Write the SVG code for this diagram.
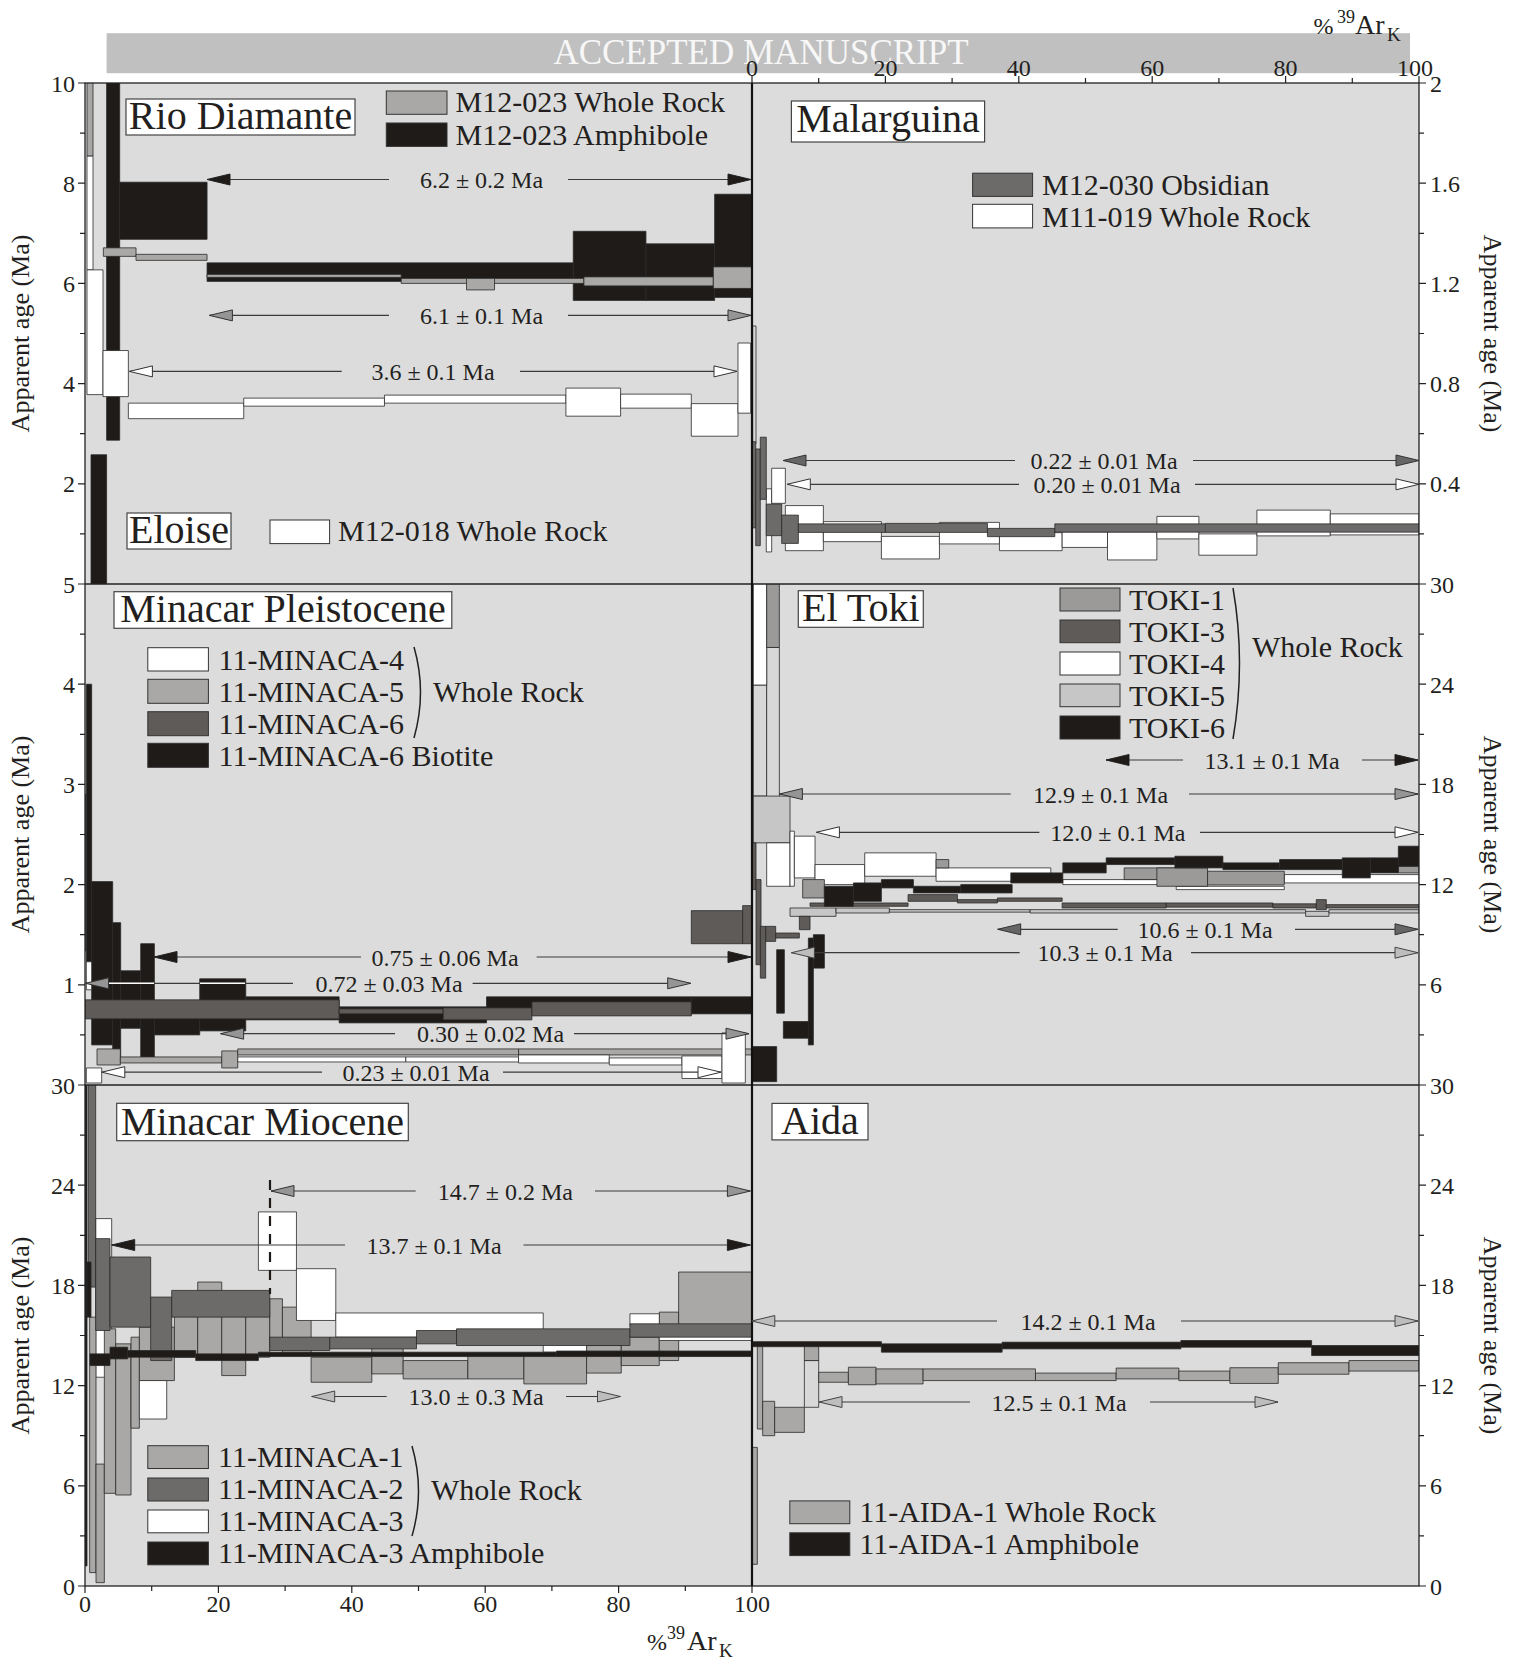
<svg xmlns="http://www.w3.org/2000/svg" xmlns:xlink="http://www.w3.org/1999/xlink" width="1519" height="1660" viewBox="0 0 1519 1660">
<style>
text{font-family:"Liberation Serif","Times New Roman",serif;fill:#231f20}
.bg{fill:#dcdcdc}
.dat rect{stroke:#2a2a2a;stroke-width:0.8;vector-effect:non-scaling-stroke}
.k{fill:#1f1b19}.g{fill:#a9a8a6}.d{fill:#6d6b6a}.d2{fill:#5f5b59}.w{fill:#ffffff}.t1{fill:#9b9a99}.t5{fill:#c6c6c6}.e{fill:#d8d8d8}
.sw{stroke:#333;stroke-width:1}
.tb{fill:#fff;stroke:#444;stroke-width:1.2}
.ttl{font-size:40px;text-anchor:middle}
.leg{font-size:30px}
.tk{font-size:24px}
.tkl{text-anchor:end}
.tkm{text-anchor:middle}
.ax{font-size:26px;text-anchor:middle}
.al{stroke:#3a3a3a;stroke-width:1.2}
.lab{font-size:24px;text-anchor:middle}
.hk{fill:#1f1b19;stroke:#222;stroke-width:1}
.hg{fill:#959595;stroke:#333;stroke-width:1}
.hw{fill:#fff;stroke:#333;stroke-width:1}
.hd{fill:#666;stroke:#333;stroke-width:1}
.hl{fill:#bdbdbd;stroke:#444;stroke-width:1}
.fr{fill:none;stroke:#222;stroke-width:1.3}
.tick{fill:none;stroke:#222;stroke-width:1.2}
.br{fill:none;stroke:#222;stroke-width:1.5}
</style>
<defs>
<path id="hL" d="M0,0 L23,-5.5 L23,5.5 Z"/>
<path id="hR" d="M0,0 L-23,-5.5 L-23,5.5 Z"/>
<clipPath id="c1"><rect x="85" y="83" width="667" height="501"/></clipPath>
<clipPath id="c2"><rect x="752" y="83" width="667" height="501"/></clipPath>
<clipPath id="c3"><rect x="85" y="584" width="667" height="501"/></clipPath>
<clipPath id="c4"><rect x="752" y="584" width="667" height="501"/></clipPath>
<clipPath id="c5"><rect x="85" y="1085" width="667" height="501"/></clipPath>
<clipPath id="c6"><rect x="752" y="1085" width="667" height="501"/></clipPath>
</defs>

<rect x="0" y="0" width="1519" height="1660" fill="#ffffff"/>
<g id="banner">
<rect x="106.6" y="33.2" width="1303.4" height="40" fill="#c0c0c0"/>
<text x="761" y="64" font-size="35" text-anchor="middle" style="fill:#f7f7f7">ACCEPTED MANUSCRIPT</text>
</g>

<rect class="bg" x="85" y="83" width="1334" height="1503"/>

<g id="panel-rio-diamante-eloise" clip-path="url(#c1)">
<g class="dat" transform="translate(85,584) scale(6.67,-50.1)">
<rect class="k" x="3.24" y="2.87" width="1.96" height="7.63"/>
<rect class="k" x="0.9" y="0" width="2.34" height="2.58"/>
<rect class="k" x="5.2" y="6.88" width="13.1" height="1.14"/>
<rect class="k" x="18.3" y="6.04" width="54.9" height="0.37"/>
<rect class="k" x="73.2" y="5.66" width="10.9" height="1.38"/>
<rect class="k" x="84.1" y="5.66" width="10.3" height="1.13"/>
<rect class="k" x="94.4" y="5.72" width="5.6" height="2.06"/>
<rect class="g" x="0.3" y="8.54" width="0.9" height="1.96"/>
<rect class="g" x="2.75" y="6.54" width="4.9" height="0.17"/>
<rect class="g" x="7.65" y="6.46" width="10.65" height="0.12"/>
<rect class="g" x="18.3" y="6.12" width="29.1" height="0.06"/>
<rect class="g" x="47.4" y="6.0" width="27.4" height="0.1"/>
<rect class="g" x="57.2" y="5.87" width="4.2" height="0.23"/>
<rect class="g" x="74.8" y="5.95" width="19.4" height="0.18"/>
<rect class="g" x="94.2" y="5.9" width="5.8" height="0.43"/>
<rect class="w" x="0.3" y="6.27" width="0.9" height="2.27"/>
<rect class="w" x="0.3" y="3.78" width="2.4" height="2.49"/>
<rect class="w" x="2.7" y="3.74" width="3.8" height="0.92"/>
<rect class="w" x="6.5" y="3.3" width="17.3" height="0.31"/>
<rect class="w" x="23.8" y="3.55" width="21.1" height="0.16"/>
<rect class="w" x="44.9" y="3.61" width="27.2" height="0.16"/>
<rect class="w" x="72.1" y="3.35" width="8.2" height="0.56"/>
<rect class="w" x="80.3" y="3.51" width="10.6" height="0.28"/>
<rect class="w" x="90.9" y="2.95" width="7.0" height="0.65"/>
<rect class="w" x="97.9" y="3.41" width="1.9" height="1.4"/>
</g>
</g>

<g id="panel-malarguina" clip-path="url(#c2)">
<g class="dat" transform="translate(752,584) scale(6.67,-250.5)">
<rect class="e" x="0.1" y="0.56" width="0.5" height="0.47"/>
<rect class="w" x="2.14" y="0.128" width="0.81" height="0.252"/>
<rect class="w" x="2.95" y="0.322" width="2.05" height="0.14"/>
<rect class="w" x="5.0" y="0.133" width="5.7" height="0.18"/>
<rect class="w" x="10.7" y="0.169" width="8.7" height="0.08"/>
<rect class="w" x="19.4" y="0.1" width="8.7" height="0.09"/>
<rect class="w" x="28.1" y="0.16" width="9.0" height="0.086"/>
<rect class="w" x="37.1" y="0.133" width="9.4" height="0.072"/>
<rect class="w" x="46.5" y="0.146" width="6.8" height="0.062"/>
<rect class="w" x="53.3" y="0.096" width="7.4" height="0.112"/>
<rect class="w" x="60.7" y="0.18" width="6.3" height="0.09"/>
<rect class="w" x="67" y="0.115" width="8.7" height="0.085"/>
<rect class="w" x="75.7" y="0.192" width="11" height="0.103"/>
<rect class="w" x="86.7" y="0.196" width="13.3" height="0.084"/>
<rect class="d" x="0" y="0.224" width="0.56" height="0.344"/>
<rect class="d" x="0.56" y="0.153" width="0.68" height="0.386"/>
<rect class="d" x="1.24" y="0.338" width="0.9" height="0.248"/>
<rect class="d" x="2.14" y="0.193" width="2.31" height="0.126"/>
<rect class="d" x="4.45" y="0.162" width="2.5" height="0.113"/>
<rect class="d" x="6.95" y="0.206" width="13.05" height="0.034"/>
<rect class="d" x="20" y="0.206" width="15.3" height="0.036"/>
<rect class="d" x="35.3" y="0.189" width="10.1" height="0.033"/>
<rect class="d" x="45.4" y="0.207" width="54.6" height="0.033"/>
</g>
</g>

<g id="panel-minacar-pleistocene" clip-path="url(#c3)">
<g class="dat" transform="translate(85,1085) scale(6.67,-100.2)">
<rect class="k" x="0.2" y="1.23" width="0.8" height="2.77"/>
<rect class="k" x="1.0" y="0.4" width="3.15" height="1.63"/>
<rect class="k" x="4.15" y="0.25" width="1.2" height="1.37"/>
<rect class="k" x="5.35" y="0.566" width="3.0" height="0.574"/>
<rect class="k" x="8.35" y="0.25" width="2.05" height="1.16"/>
<rect class="k" x="10.4" y="0.5" width="6.8" height="0.3"/>
<rect class="k" x="17.2" y="0.54" width="6.9" height="0.52"/>
<rect class="k" x="24.1" y="0.65" width="14" height="0.23"/>
<rect class="k" x="38.1" y="0.62" width="22.1" height="0.16"/>
<rect class="k" x="60.2" y="0.70" width="30.7" height="0.18"/>
<rect class="k" x="90.9" y="0.71" width="9.1" height="0.17"/>
<rect class="d2" x="0" y="0.66" width="38.1" height="0.19"/>
<rect class="d2" x="38.1" y="0.71" width="15.6" height="0.05"/>
<rect class="d2" x="53.7" y="0.65" width="13.3" height="0.12"/>
<rect class="d2" x="67" y="0.69" width="23.9" height="0.14"/>
<rect class="d2" x="90.9" y="1.41" width="7.7" height="0.33"/>
<rect class="d2" x="98.6" y="1.41" width="1.4" height="0.38"/>
<rect class="d2" x="0" y="1.34" width="0.2" height="1.56"/>
<rect class="g" x="1.8" y="0.2" width="3.5" height="0.16"/>
<rect class="g" x="5.3" y="0.22" width="15.2" height="0.06"/>
<rect class="g" x="20.5" y="0.17" width="2.4" height="0.17"/>
<rect class="g" x="22.9" y="0.3" width="42.1" height="0.06"/>
<rect class="g" x="65" y="0.3" width="35" height="0.06"/>
<rect class="w" x="0.2" y="0.02" width="2.3" height="0.15"/>
<rect class="w" x="0.2" y="0.95" width="0.8" height="0.28"/>
<rect class="w" x="22.9" y="0.23" width="25.2" height="0.05"/>
<rect class="w" x="48.1" y="0.23" width="16.9" height="0.05"/>
<rect class="w" x="65" y="0.22" width="13.6" height="0.08"/>
<rect class="w" x="78.6" y="0.2" width="10.9" height="0.07"/>
<rect class="w" x="89.5" y="0.065" width="6" height="0.225"/>
<rect class="w" x="95.5" y="0.02" width="3.5" height="0.5"/>
</g>
</g>

<g id="panel-el-toki" clip-path="url(#c4)">
<g class="dat" transform="translate(752,1085) scale(6.67,-16.7)">
<rect class="e" x="0.2" y="17.3" width="2.0" height="6.65"/>
<rect class="e" x="2.2" y="14.5" width="1.9" height="11.7"/>
<rect class="t5" x="0.2" y="14.5" width="5.5" height="2.8"/>
<rect class="t5" x="5.7" y="10.1" width="6.9" height="0.5"/>
<rect class="t5" x="12.6" y="10.3" width="8" height="0.3"/>
<rect class="t5" x="20.6" y="10.35" width="21.1" height="0.15"/>
<rect class="t5" x="41.7" y="10.3" width="41.3" height="0.2"/>
<rect class="t5" x="83" y="10.1" width="3.5" height="0.3"/>
<rect class="t5" x="86.5" y="10.3" width="13.5" height="0.2"/>
<rect class="d2" x="0" y="11.7" width="0.6" height="2.8"/>
<rect class="d2" x="0.6" y="7.2" width="0.75" height="5.1"/>
<rect class="d2" x="1.25" y="6.4" width="0.8" height="3.1"/>
<rect class="d2" x="2.05" y="8.6" width="1.5" height="0.9"/>
<rect class="d2" x="3.55" y="8.8" width="3.55" height="0.3"/>
<rect class="d2" x="7.1" y="9.3" width="1.6" height="0.8"/>
<rect class="d2" x="8.7" y="10.7" width="14.7" height="0.2"/>
<rect class="d2" x="23.4" y="11.0" width="7.4" height="0.4"/>
<rect class="d2" x="30.8" y="10.9" width="6" height="0.2"/>
<rect class="d2" x="36.8" y="11.0" width="9.7" height="0.2"/>
<rect class="d2" x="46.5" y="10.6" width="15.6" height="0.3"/>
<rect class="d2" x="62.1" y="10.65" width="16" height="0.25"/>
<rect class="d2" x="78.1" y="10.6" width="6.5" height="0.25"/>
<rect class="d2" x="84.6" y="10.5" width="1.5" height="0.6"/>
<rect class="d2" x="86.1" y="10.6" width="13.9" height="0.2"/>
<rect class="w" x="0.2" y="23.95" width="2.0" height="6.55"/>
<rect class="w" x="2.2" y="11.9" width="3.5" height="2.6"/>
<rect class="w" x="5.7" y="11.9" width="0.65" height="3.3"/>
<rect class="w" x="6.35" y="12.4" width="3.1" height="2.5"/>
<rect class="w" x="9.45" y="12.0" width="7.45" height="1.2"/>
<rect class="w" x="16.9" y="12.5" width="10.7" height="1.4"/>
<rect class="w" x="27.6" y="12.2" width="17.2" height="0.8"/>
<rect class="w" x="46.6" y="12.0" width="18.8" height="0.3"/>
<rect class="w" x="63.6" y="11.7" width="16.2" height="0.2"/>
<rect class="w" x="79.8" y="12.1" width="20.2" height="0.5"/>
<rect class="t1" x="2.2" y="26.2" width="1.9" height="4.3"/>
<rect class="t1" x="7.6" y="11.2" width="3.25" height="1.1"/>
<rect class="t1" x="27.6" y="13.0" width="1.9" height="0.5"/>
<rect class="t1" x="55.8" y="12.3" width="7.8" height="0.7"/>
<rect class="t1" x="60.7" y="11.9" width="7.6" height="1.1"/>
<rect class="t1" x="68.3" y="11.98" width="11.5" height="0.82"/>
<rect class="t1" x="96.9" y="12.7" width="3.1" height="0.4"/>
<rect class="k" x="0" y="0.2" width="3.7" height="2.1"/>
<rect class="k" x="3.7" y="4.3" width="1.15" height="3.8"/>
<rect class="k" x="4.7" y="2.8" width="3.9" height="1.0"/>
<rect class="k" x="8.45" y="2.4" width="0.75" height="6.4"/>
<rect class="k" x="9.2" y="7.0" width="1.65" height="2.0"/>
<rect class="k" x="10.85" y="10.7" width="4.35" height="1.2"/>
<rect class="k" x="15.2" y="11.0" width="4.2" height="1.1"/>
<rect class="k" x="19.4" y="11.8" width="4.8" height="0.5"/>
<rect class="k" x="24.2" y="11.5" width="7.1" height="0.4"/>
<rect class="k" x="31.3" y="11.5" width="7.7" height="0.5"/>
<rect class="k" x="38.8" y="12.1" width="7.8" height="0.6"/>
<rect class="k" x="46.6" y="12.7" width="6.5" height="0.6"/>
<rect class="k" x="53.1" y="13.2" width="10.3" height="0.4"/>
<rect class="k" x="63.4" y="13.0" width="7.2" height="0.7"/>
<rect class="k" x="70.6" y="12.9" width="8.5" height="0.4"/>
<rect class="k" x="79.1" y="12.9" width="9.4" height="0.6"/>
<rect class="k" x="88.5" y="12.4" width="4.2" height="1.2"/>
<rect class="k" x="92.7" y="12.7" width="4.2" height="0.9"/>
<rect class="k" x="96.9" y="13.1" width="3.1" height="1.2"/>
</g>
</g>

<g id="panel-minacar-miocene" clip-path="url(#c5)">
<g class="dat" transform="translate(85,1586) scale(6.67,-16.7)">
<rect class="w" x="1.6" y="12.5" width="2.4" height="9.5"/>
<rect class="g" x="0.7" y="0.8" width="0.95" height="15.3"/>
<rect class="g" x="1.65" y="0.2" width="1.25" height="7.1"/>
<rect class="g" x="2.9" y="5.55" width="1.7" height="9.85"/>
<rect class="g" x="4.6" y="5.45" width="2.3" height="9.05"/>
<rect class="g" x="6.9" y="9.45" width="1.25" height="5.45"/>
<rect class="g" x="8.15" y="12.3" width="5.25" height="3.2"/>
<rect class="g" x="13.4" y="13.7" width="3.5" height="2.5"/>
<rect class="g" x="16.9" y="13.7" width="3.6" height="4.5"/>
<rect class="g" x="20.5" y="12.6" width="3.6" height="3.7"/>
<rect class="g" x="24.1" y="13.7" width="3.6" height="2.6"/>
<rect class="g" x="27.7" y="14.3" width="1.9" height="2.9"/>
<rect class="g" x="29.6" y="13.9" width="4.3" height="2.8"/>
<rect class="g" x="33.9" y="12.2" width="9.1" height="1.5"/>
<rect class="g" x="43" y="12.7" width="4.7" height="1.6"/>
<rect class="g" x="47.7" y="12.4" width="9.7" height="1.1"/>
<rect class="g" x="57.4" y="12.4" width="8.4" height="1.4"/>
<rect class="g" x="65.8" y="12.1" width="9.4" height="1.7"/>
<rect class="g" x="75.2" y="12.75" width="5.2" height="1.65"/>
<rect class="g" x="80.4" y="13.2" width="5.7" height="1.7"/>
<rect class="g" x="86.1" y="13.5" width="2.9" height="2.9"/>
<rect class="g" x="89" y="14.9" width="11" height="3.9"/>
<rect class="w" x="8.15" y="10.0" width="4.1" height="2.3"/>
<rect class="w" x="26" y="18.9" width="5.7" height="3.5"/>
<rect class="w" x="31.7" y="15.9" width="5.9" height="3.1"/>
<rect class="w" x="37.6" y="14.9" width="31.1" height="1.45"/>
<rect class="w" x="68.7" y="14.0" width="6.5" height="0.5"/>
<rect class="w" x="81.7" y="15.6" width="4.4" height="0.7"/>
<rect class="w" x="86.1" y="14.7" width="13.9" height="0.4"/>
<rect class="d" x="0.5" y="17.9" width="1.1" height="12.6"/>
<rect class="d" x="1.6" y="15.3" width="2.15" height="5.5"/>
<rect class="d" x="3.75" y="15.5" width="6.1" height="4.2"/>
<rect class="d" x="9.85" y="13.5" width="3.15" height="3.8"/>
<rect class="d" x="13.0" y="16.1" width="14.7" height="1.6"/>
<rect class="d" x="27.7" y="14.1" width="9" height="0.8"/>
<rect class="d" x="36.7" y="14.2" width="13" height="0.7"/>
<rect class="d" x="49.7" y="14.5" width="6" height="0.8"/>
<rect class="d" x="55.7" y="14.4" width="26" height="1.0"/>
<rect class="d" x="81.7" y="14.9" width="18.3" height="0.8"/>
<rect class="k" x="0" y="1.2" width="0.3" height="29.3"/>
<rect class="k" x="0.3" y="16.1" width="0.6" height="3.3"/>
<rect class="k" x="0.75" y="13.2" width="3.0" height="0.7"/>
<rect class="k" x="3.75" y="13.6" width="2.65" height="0.7"/>
<rect class="k" x="6.4" y="13.7" width="10.2" height="0.4"/>
<rect class="k" x="16.6" y="13.5" width="9.4" height="0.4"/>
<rect class="k" x="26" y="13.74" width="44.7" height="0.26"/>
<rect class="k" x="70.7" y="13.74" width="29.3" height="0.33"/>
</g>
<line x1="270" y1="1180" x2="270" y2="1294" stroke="#1f1b19" stroke-width="2.2" stroke-dasharray="10,8"/>
</g>

<g id="panel-aida" clip-path="url(#c6)">
<g class="dat" transform="translate(752,1586) scale(6.67,-16.7)">
<rect class="e" x="7.85" y="10.7" width="2.15" height="2.8"/>
<rect class="g" x="0" y="1.3" width="0.8" height="7.0"/>
<rect class="g" x="0.8" y="9.4" width="0.8" height="5.0"/>
<rect class="g" x="1.6" y="9.0" width="1.8" height="2.06"/>
<rect class="g" x="3.4" y="9.2" width="4.45" height="1.5"/>
<rect class="g" x="7.85" y="13.5" width="2.15" height="0.9"/>
<rect class="g" x="10" y="12.2" width="4.45" height="0.6"/>
<rect class="g" x="14.45" y="12.05" width="4.15" height="1.05"/>
<rect class="g" x="18.6" y="12.1" width="7.05" height="0.9"/>
<rect class="g" x="25.65" y="12.3" width="16.85" height="0.7"/>
<rect class="g" x="42.5" y="12.3" width="12.1" height="0.45"/>
<rect class="g" x="54.6" y="12.4" width="9.4" height="0.65"/>
<rect class="g" x="64" y="12.3" width="7.65" height="0.57"/>
<rect class="g" x="71.65" y="12.13" width="7.25" height="0.94"/>
<rect class="g" x="78.9" y="12.68" width="10.6" height="0.69"/>
<rect class="g" x="89.5" y="12.87" width="10.5" height="0.63"/>
<rect class="k" x="0" y="14.33" width="19.4" height="0.3"/>
<rect class="k" x="19.4" y="14.0" width="18.1" height="0.5"/>
<rect class="k" x="37.5" y="14.2" width="26.8" height="0.4"/>
<rect class="k" x="64.3" y="14.3" width="19.6" height="0.4"/>
<rect class="k" x="83.9" y="13.8" width="16.1" height="0.6"/>
</g>
</g>

<g id="frame">
<rect class="fr" x="85" y="83" width="1334" height="1503"/>
<line x1="85" y1="584" x2="1419" y2="584" stroke="#222" stroke-width="1.3"/>
<line x1="85" y1="1085" x2="1419" y2="1085" stroke="#222" stroke-width="1.3"/>
<line x1="752" y1="83" x2="752" y2="1586" stroke="#111" stroke-width="2.2"/>
<path class="tick" d="M78,83H85M78,183.2H85M78,283.4H85M78,383.6H85M78,483.8H85M78,584H85M78,684.2H85M78,784.4H85M78,884.6H85M78,984.8H85M78,1085H85M78,1185.2H85M78,1285.4H85M78,1385.6H85M78,1485.8H85M78,1586H85M80,133.1H85M80,233.3H85M80,333.5H85M80,433.7H85M80,533.9H85M80,634.1H85M80,734.3H85M80,834.5H85M80,934.7H85M80,1034.9H85M80,1135.1H85M80,1235.3H85M80,1335.5H85M80,1435.7H85M80,1535.9H85"/>
<path class="tick" d="M1419,83H1426M1419,183.2H1426M1419,283.4H1426M1419,383.6H1426M1419,483.8H1426M1419,584H1426M1419,684.2H1426M1419,784.4H1426M1419,884.6H1426M1419,984.8H1426M1419,1085H1426M1419,1185.2H1426M1419,1285.4H1426M1419,1385.6H1426M1419,1485.8H1426M1419,1586H1426M1419,133.1H1424M1419,233.3H1424M1419,333.5H1424M1419,433.7H1424M1419,533.9H1424M1419,634.1H1424M1419,734.3H1424M1419,834.5H1424M1419,934.7H1424M1419,1034.9H1424M1419,1135.1H1424M1419,1235.3H1424M1419,1335.5H1424M1419,1435.7H1424M1419,1535.9H1424"/>
<path class="tick" d="M85,1586V1593M218.4,1586V1593M351.8,1586V1593M485.2,1586V1593M618.6,1586V1593M752,1586V1593M151.7,1586V1591M285.1,1586V1591M418.5,1586V1591M551.9,1586V1591M685.3,1586V1591"/>
<path class="tick" d="M752,83V76M885.4,83V76M1018.8,83V76M1152.2,83V76M1285.6,83V76M1419,83V76M818.7,83V78M952.1,83V78M1085.5,83V78M1218.9,83V78M1352.3,83V78"/>
</g>

<g id="axis-labels">
<g class="tk tkl">
<text x="75" y="91.5">10</text><text x="75" y="191.7">8</text><text x="75" y="291.9">6</text><text x="75" y="392.1">4</text><text x="75" y="492.3">2</text>
<text x="75" y="592.5">5</text><text x="75" y="692.7">4</text><text x="75" y="792.9">3</text><text x="75" y="893.1">2</text><text x="75" y="993.3">1</text>
<text x="75" y="1093.5">30</text><text x="75" y="1193.7">24</text><text x="75" y="1293.9">18</text><text x="75" y="1394.1">12</text><text x="75" y="1494.3">6</text><text x="75" y="1594.5">0</text>
</g>
<g class="tk">
<text x="1430" y="91.5">2</text><text x="1430" y="191.7">1.6</text><text x="1430" y="291.9">1.2</text><text x="1430" y="392.1">0.8</text><text x="1430" y="492.3">0.4</text>
<text x="1430" y="592.5">30</text><text x="1430" y="692.7">24</text><text x="1430" y="792.9">18</text><text x="1430" y="893.1">12</text><text x="1430" y="993.3">6</text>
<text x="1430" y="1093.5">30</text><text x="1430" y="1193.7">24</text><text x="1430" y="1293.9">18</text><text x="1430" y="1394.1">12</text><text x="1430" y="1494.3">6</text><text x="1430" y="1594.5">0</text>
</g>
<g class="tk tkm">
<text x="85" y="1612">0</text><text x="218.4" y="1612">20</text><text x="351.8" y="1612">40</text><text x="485.2" y="1612">60</text><text x="618.6" y="1612">80</text><text x="752" y="1612">100</text>
<text x="752" y="75.5">0</text><text x="885.4" y="75.5">20</text><text x="1018.8" y="75.5">40</text><text x="1152.2" y="75.5">60</text><text x="1285.6" y="75.5">80</text><text x="1415" y="75.5">100</text>
</g>
<text font-size="24"><tspan x="1313.6" y="34">%</tspan><tspan x="1337" y="23" font-size="18">39</tspan><tspan x="1355" y="34" font-size="28">Ar</tspan><tspan x="1387" y="41" font-size="19">K</tspan></text>
<text font-size="24"><tspan x="647" y="1650">%</tspan><tspan x="667" y="1639" font-size="18">39</tspan><tspan x="687" y="1650" font-size="28">Ar</tspan><tspan x="719" y="1657" font-size="19">K</tspan></text>
<text class="ax" transform="translate(29,333.5) rotate(-90)">Apparent age (Ma)</text>
<text class="ax" transform="translate(29,834.5) rotate(-90)">Apparent age (Ma)</text>
<text class="ax" transform="translate(29,1335.5) rotate(-90)">Apparent age (Ma)</text>
<text class="ax" transform="translate(1484,333.5) rotate(90)">Apparent age (Ma)</text>
<text class="ax" transform="translate(1484,834.5) rotate(90)">Apparent age (Ma)</text>
<text class="ax" transform="translate(1484,1335.5) rotate(90)">Apparent age (Ma)</text>
</g>

<g id="titles-legends">
<g id="title-rio-diamante"><rect class="tb" x="126" y="99" width="229" height="36"/><text class="ttl" x="240.5" y="129">Rio Diamante</text></g>
<g id="legend-rio-diamante">
<rect class="g sw" x="386.3" y="91" width="60.7" height="23.3"/><text class="leg" x="455.6" y="111.5">M12-023 Whole Rock</text>
<rect class="k sw" x="386.3" y="123" width="60.7" height="23.4"/><text class="leg" x="455.6" y="144.5">M12-023 Amphibole</text>
</g>
<g id="title-eloise"><rect class="tb" x="127" y="513" width="104" height="36"/><text class="ttl" x="179" y="543">Eloise</text></g>
<g id="legend-eloise"><rect class="w sw" x="270" y="520" width="59.6" height="23.6"/><text class="leg" x="338" y="541">M12-018 Whole Rock</text></g>

<g id="title-malarguina"><rect class="tb" x="791.4" y="101" width="193.2" height="41"/><text class="ttl" x="888" y="132">Malarguina</text></g>
<g id="legend-malarguina">
<rect class="d sw" x="972.6" y="173.2" width="60" height="23.2"/><text class="leg" x="1042" y="194.6">M12-030 Obsidian</text>
<rect class="w sw" x="972.6" y="204.3" width="60" height="23.6"/><text class="leg" x="1042" y="226.8">M11-019 Whole Rock</text>
</g>

<g id="title-minacar-pleistocene"><rect class="tb" x="114" y="591.7" width="337.8" height="36.6"/><text class="ttl" x="283" y="622">Minacar Pleistocene</text></g>
<g id="legend-minacar-pleistocene">
<rect class="w sw" x="147.8" y="647.7" width="60.6" height="23.3"/><text class="leg" x="218.5" y="670">11-MINACA-4</text>
<rect class="g sw" x="147.8" y="679.3" width="60.6" height="24"/><text class="leg" x="218.5" y="702">11-MINACA-5</text>
<rect class="d2 sw" x="147.8" y="711.7" width="60.6" height="24"/><text class="leg" x="218.5" y="734">11-MINACA-6</text>
<rect class="k sw" x="147.8" y="743.3" width="60.6" height="24"/><text class="leg" x="218.5" y="766">11-MINACA-6 Biotite</text>
<path class="br" d="M414,647 Q427,692 414,738"/>
<text class="leg" x="433" y="702">Whole Rock</text>
</g>

<g id="title-el-toki"><rect class="tb" x="798.3" y="590.7" width="125" height="36.6"/><text class="ttl" x="860.8" y="621">El Toki</text></g>
<g id="legend-el-toki">
<rect class="t1 sw" x="1060" y="588" width="60" height="23"/><text class="leg" x="1129" y="610">TOKI-1</text>
<rect class="d2 sw" x="1060" y="620" width="60" height="22.7"/><text class="leg" x="1129" y="642">TOKI-3</text>
<rect class="w sw" x="1060" y="652" width="60" height="23"/><text class="leg" x="1129" y="674">TOKI-4</text>
<rect class="t5 sw" x="1060" y="684" width="60" height="22.7"/><text class="leg" x="1129" y="706">TOKI-5</text>
<rect class="k sw" x="1060" y="716" width="60" height="23"/><text class="leg" x="1129" y="738">TOKI-6</text>
<path class="br" d="M1233,588 Q1246,663 1233,739"/>
<text class="leg" x="1252" y="656.7">Whole Rock</text>
</g>

<g id="title-minacar-miocene"><rect class="tb" x="116.7" y="1103.3" width="291.6" height="37.4"/><text class="ttl" x="262.5" y="1134.5">Minacar Miocene</text></g>
<g id="legend-minacar-miocene">
<rect class="g sw" x="147.8" y="1445.7" width="60.6" height="22.8"/><text class="leg" x="218" y="1466.5">11-MINACA-1</text>
<rect class="d sw" x="147.8" y="1478" width="60.6" height="23"/><text class="leg" x="218" y="1499">11-MINACA-2</text>
<rect class="w sw" x="147.8" y="1510" width="60.6" height="22.8"/><text class="leg" x="218" y="1531">11-MINACA-3</text>
<rect class="k sw" x="147.8" y="1542" width="60.6" height="22.8"/><text class="leg" x="218" y="1563">11-MINACA-3 Amphibole</text>
<path class="br" d="M412,1446 Q425,1491 412,1536"/>
<text class="leg" x="431" y="1499.6">Whole Rock</text>
</g>

<g id="title-aida"><rect class="tb" x="772" y="1103.4" width="96" height="36.5"/><text class="ttl" x="820" y="1134">Aida</text></g>
<g id="legend-aida">
<rect class="g sw" x="789.8" y="1500.9" width="60" height="22.8"/><text class="leg" x="859.3" y="1522.4">11-AIDA-1 Whole Rock</text>
<rect class="k sw" x="789.8" y="1532.8" width="60" height="22.8"/><text class="leg" x="859.3" y="1553.6">11-AIDA-1 Amphibole</text>
</g>
</g>

<g id="connectors">
<g class="al">
<line x1="207" y1="179.5" x2="389" y2="179.5"/><line x1="568" y1="179.5" x2="751" y2="179.5"/>
<line x1="209.4" y1="315.4" x2="389" y2="315.4"/><line x1="568" y1="315.4" x2="751" y2="315.4"/>
<line x1="129.4" y1="371.4" x2="341.7" y2="371.4"/><line x1="520" y1="371.4" x2="737" y2="371.4"/>
<line x1="783" y1="460.5" x2="1015" y2="460.5"/><line x1="1193" y1="460.5" x2="1419" y2="460.5"/>
<line x1="787.3" y1="484.3" x2="1019" y2="484.3"/><line x1="1195" y1="484.3" x2="1419" y2="484.3"/>
<line x1="154" y1="957" x2="361" y2="957"/><line x1="536.6" y1="957" x2="751" y2="957"/>
<line x1="85.5" y1="983.3" x2="293" y2="983.3"/><line x1="472.6" y1="983.3" x2="690.7" y2="983.3"/>
<line x1="220.6" y1="1033.7" x2="395" y2="1033.7"/><line x1="574" y1="1033.7" x2="749" y2="1033.7"/>
<line x1="101.8" y1="1072.2" x2="322" y2="1072.2"/><line x1="503" y1="1072.2" x2="721" y2="1072.2"/>
<line x1="1106" y1="760" x2="1183" y2="760"/><line x1="1362" y1="760" x2="1418" y2="760"/>
<line x1="779.4" y1="794" x2="1010.7" y2="794"/><line x1="1189" y1="794" x2="1418" y2="794"/>
<line x1="816.4" y1="832.3" x2="1039.4" y2="832.3"/><line x1="1200" y1="832.3" x2="1418" y2="832.3"/>
<line x1="997.7" y1="929.3" x2="1117.7" y2="929.3"/><line x1="1295" y1="929.3" x2="1418" y2="929.3"/>
<line x1="791.4" y1="952.7" x2="1019.6" y2="952.7"/><line x1="1191" y1="952.7" x2="1418" y2="952.7"/>
<line x1="271" y1="1191" x2="415.7" y2="1191"/><line x1="595" y1="1191" x2="750.4" y2="1191"/>
<line x1="111.7" y1="1245" x2="345" y2="1245"/><line x1="523.5" y1="1245" x2="750.4" y2="1245"/>
<line x1="311.7" y1="1396.5" x2="386.7" y2="1396.5"/><line x1="566" y1="1396.5" x2="620.5" y2="1396.5"/>
<line x1="751.8" y1="1321" x2="997" y2="1321"/><line x1="1181" y1="1321" x2="1418" y2="1321"/>
<line x1="819" y1="1402" x2="970" y2="1402"/><line x1="1150" y1="1402" x2="1278" y2="1402"/>
</g>
<line x1="109" y1="983.3" x2="154" y2="983.3" stroke="#fff" stroke-width="1.4"/>
<line x1="200" y1="983.3" x2="245" y2="983.3" stroke="#fff" stroke-width="1.4"/>
<use href="#hL" x="207" y="179.5" class="hk"/><use href="#hR" x="751" y="179.5" class="hk"/>
<use href="#hL" x="209.4" y="315.4" class="hg"/><use href="#hR" x="751" y="315.4" class="hg"/>
<use href="#hL" x="129.4" y="371.4" class="hw"/><use href="#hR" x="737" y="371.4" class="hw"/>
<use href="#hL" x="783" y="460.5" class="hd"/><use href="#hR" x="1419" y="460.5" class="hd"/>
<use href="#hL" x="787.3" y="484.3" class="hw"/><use href="#hR" x="1419" y="484.3" class="hw"/>
<use href="#hL" x="154" y="957" class="hk"/><use href="#hR" x="751" y="957" class="hk"/>
<use href="#hL" x="85.5" y="983.3" class="hg"/><use href="#hR" x="690.7" y="983.3" class="hg"/>
<use href="#hL" x="220.6" y="1033.7" class="hg"/><use href="#hR" x="749" y="1033.7" class="hg"/>
<use href="#hL" x="101.8" y="1072.2" class="hw"/><use href="#hR" x="721" y="1072.2" class="hw"/>
<use href="#hL" x="1106" y="760" class="hk"/><use href="#hR" x="1418" y="760" class="hk"/>
<use href="#hL" x="779.4" y="794" class="hg"/><use href="#hR" x="1418" y="794" class="hg"/>
<use href="#hL" x="816.4" y="832.3" class="hw"/><use href="#hR" x="1418" y="832.3" class="hw"/>
<use href="#hL" x="997.7" y="929.3" class="hd"/><use href="#hR" x="1418" y="929.3" class="hd"/>
<use href="#hL" x="791.4" y="952.7" class="hl"/><use href="#hR" x="1418" y="952.7" class="hl"/>
<use href="#hL" x="271" y="1191" class="hg"/><use href="#hR" x="750.4" y="1191" class="hg"/>
<use href="#hL" x="111.7" y="1245" class="hk"/><use href="#hR" x="750.4" y="1245" class="hk"/>
<use href="#hL" x="311.7" y="1396.5" class="hl"/><use href="#hR" x="620.5" y="1396.5" class="hl"/>
<use href="#hL" x="751.8" y="1321" class="hl"/><use href="#hR" x="1418" y="1321" class="hl"/>
<use href="#hL" x="819" y="1402" class="hl"/><use href="#hR" x="1278" y="1402" class="hl"/>
<g class="lab">
<text x="481.5" y="188">6.2 ± 0.2 Ma</text>
<text x="481.5" y="324">6.1 ± 0.1 Ma</text>
<text x="433" y="380">3.6 ± 0.1 Ma</text>
<text x="1104" y="469">0.22 ± 0.01 Ma</text>
<text x="1107" y="493">0.20 ± 0.01 Ma</text>
<text x="445" y="965.5">0.75 ± 0.06 Ma</text>
<text x="389" y="992">0.72 ± 0.03 Ma</text>
<text x="490.5" y="1042">0.30 ± 0.02 Ma</text>
<text x="416" y="1080.7">0.23 ± 0.01 Ma</text>
<text x="1272" y="768.5">13.1 ± 0.1 Ma</text>
<text x="1100.5" y="802.5">12.9 ± 0.1 Ma</text>
<text x="1117.8" y="841">12.0 ± 0.1 Ma</text>
<text x="1205" y="938">10.6 ± 0.1 Ma</text>
<text x="1105" y="961">10.3 ± 0.1 Ma</text>
<text x="505.3" y="1199.5">14.7 ± 0.2 Ma</text>
<text x="434" y="1253.5">13.7 ± 0.1 Ma</text>
<text x="476" y="1405">13.0 ± 0.3 Ma</text>
<text x="1088" y="1329.5">14.2 ± 0.1 Ma</text>
<text x="1059" y="1410.5">12.5 ± 0.1 Ma</text>
</g>
</g>
</svg>
